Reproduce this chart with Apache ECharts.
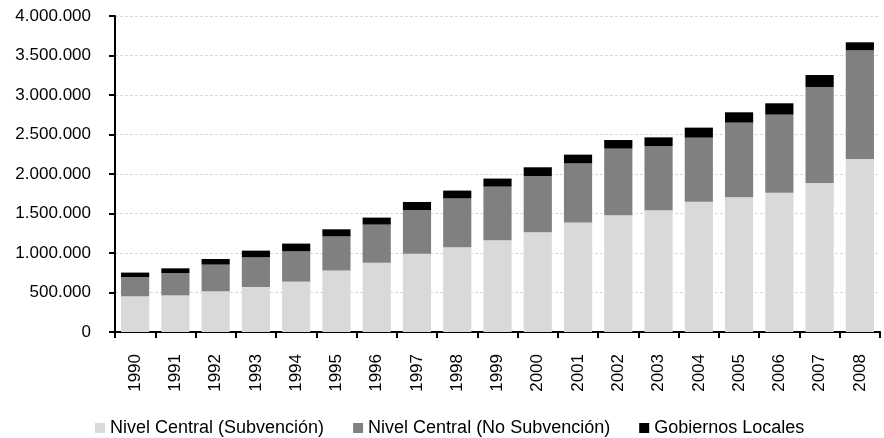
<!DOCTYPE html>
<html>
<head>
<meta charset="utf-8">
<script src="https://cdn.jsdelivr.net/npm/echarts@6/dist/echarts.min.js"></script>
<style>
  html, body { margin: 0; padding: 0; background: #fff; }
  #chart { width: 884px; height: 438px; }
</style>
</head>
<body>
<div id="chart"></div>
<script>
var years = ["1990", "1991", "1992", "1993", "1994", "1995", "1996", "1997", "1998", "1999",
             "2000", "2001", "2002", "2003", "2004", "2005", "2006", "2007", "2008"];

// valores
var subvencion = [452000, 464000, 515000, 570000, 638000, 777000, 878000, 992000, 1072000, 1161000,
                  1262000, 1385000, 1477000, 1540000, 1650000, 1705000, 1764000, 1886000, 2190000];
var noSubvencion = [244000, 283000, 338000, 375000, 383000, 434000, 481000, 552000, 620000, 679000,
                    713000, 750000, 844000, 814000, 810000, 945000, 988000, 1215000, 1376000];
var gobLocales = [56000, 59000, 71000, 85000, 98000, 89000, 89000, 102000, 98000, 102000,
                  110000, 110000, 109000, 110000, 127000, 131000, 143000, 152000, 101000];

var names = ["Nivel Central (Subvención)", "Nivel Central (No Subvención)", "Gobiernos Locales"];
var colors = ["#d9d9d9", "#808080", "#000000"];

var font = "'Liberation Sans', Arial, sans-serif";

function fmt(v) {
  return String(v).replace(/\B(?=(\d{3})+(?!\d))/g, ".");
}

var mychart = echarts.init(document.getElementById("chart"));

function serie(i, data) {
  return {
    name: names[i],
    type: "bar",
    stack: "total",
    data: data,
    barWidth: "70%",
    itemStyle: { color: colors[i] },
    emphasis: { disabled: true }
  };
}

var option = {
  animation: false,
  textStyle: { fontFamily: font },
  grid: {
    left: 115,
    right: 4,
    top: 16,
    bottom: 106
  },
  legend: {
    left: 95,
    top: 419,
    padding: 0,
    itemWidth: 10,
    itemHeight: 10,
    itemGap: 29,
    icon: "rect",
    textStyle: { fontSize: 18, color: "#000", fontFamily: font },
    data: names
  },
  xAxis: {
    type: "category",
    data: years,
    axisLine: { lineStyle: { color: "#000", width: 2 } },
    axisTick: { show: true, length: 6, lineStyle: { color: "#000", width: 2 } },
    axisLabel: {
      rotate: 90,
      margin: 22,
      fontSize: 17,
      color: "#000",
      fontFamily: font
    }
  },
  yAxis: {
    type: "value",
    min: 0,
    max: 4000000,
    interval: 500000,
    axisLine: { show: true, lineStyle: { color: "#000", width: 2 } },
    axisTick: { show: true, length: 6, lineStyle: { color: "#000", width: 2 } },
    axisLabel: {
      margin: 24,
      fontSize: 17,
      color: "#000",
      fontFamily: font,
      formatter: fmt
    },
    splitLine: {
      show: true,
      lineStyle: { color: "#d9d9d9", type: [3, 2], width: 1 }
    }
  },
  series: [
    serie(0, subvencion),
    serie(1, noSubvencion),
    serie(2, gobLocales)
  ]
};

mychart.setOption(option);
</script>
</body>
</html>
